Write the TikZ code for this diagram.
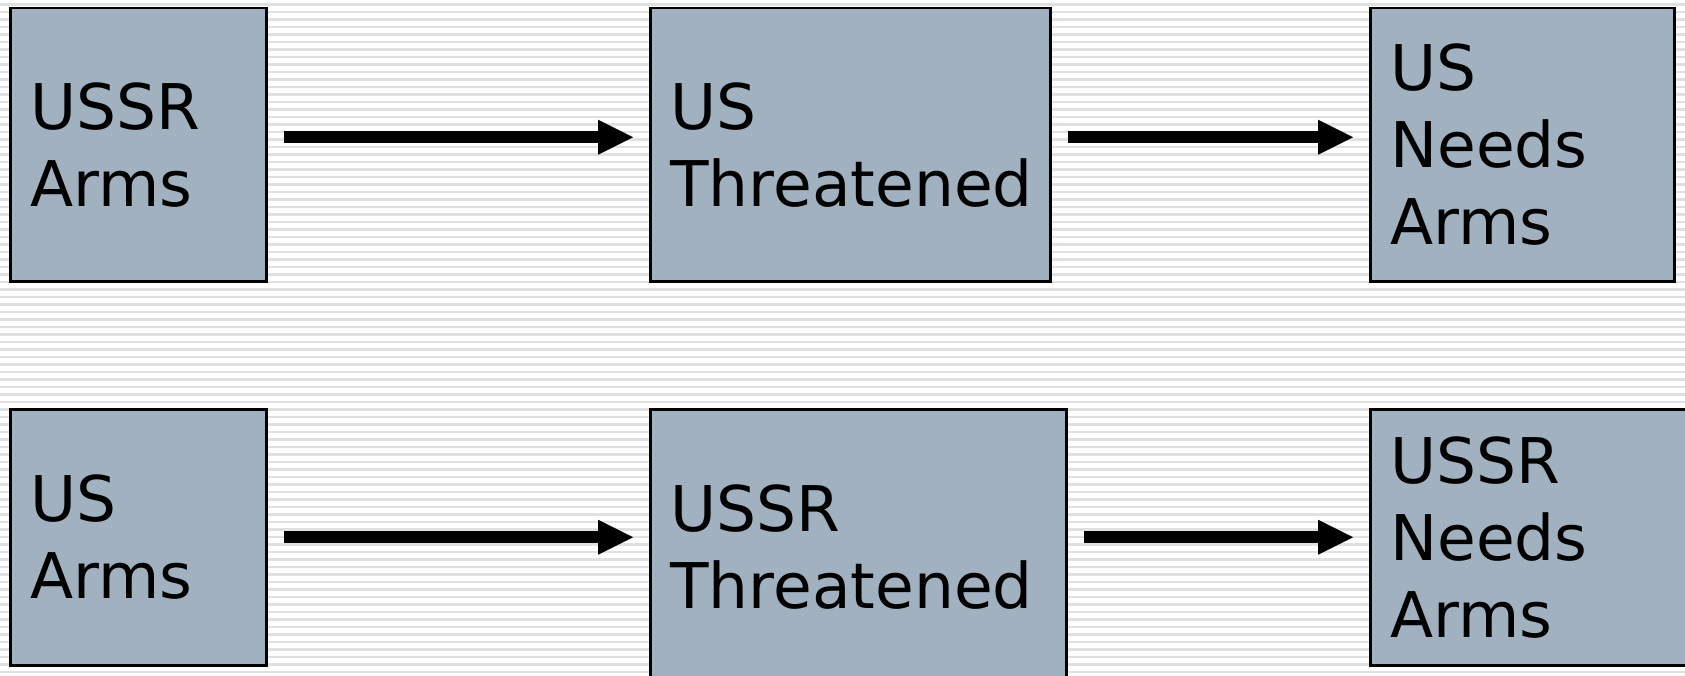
\documentclass[tikz,border=0pt]{standalone}
\usepackage{fontspec}
\setmainfont{DejaVu Sans}
\usetikzlibrary{arrows.meta,calc}
\definecolor{boxfill}{RGB}{162,177,192}
\definecolor{stripegray}{RGB}{224,224,224}
\tikzset{
  box/.style={draw=black, line width=2.5pt, fill=boxfill, anchor=north west,
    inner xsep=20pt, inner ysep=0pt, align=left,
    font=\fontsize{63}{77}\selectfont},
  arr/.style={line width=11.7pt,
    -{Triangle[length=35pt,width=35pt,line width=0pt]},
    shorten <=16pt, shorten >=16pt},
  stripe/.style={stripegray, line width=2.5pt}
}
\begin{document}
\begin{tikzpicture}[x=1pt,y=-1pt]
  \useasboundingbox (0,0) rectangle (1685,676);
  \clip (0,0) rectangle (1685,676);
  % striped backdrop
  \fill[white] (0,0) rectangle (1685,676);
  \foreach \y in {4.5,12,...,680} \draw[stripe] (0,\y) -- (1685,\y);

  % upper chain
  \node[box, minimum width=256pt, minimum height=273pt, text width=216pt] (b1) at (9,7) {USSR\\Arms};
  \node[box, minimum width=400pt, minimum height=273pt, text width=360pt] (b2) at (649,7) {US\\Threatened};
  \node[box, minimum width=304pt, minimum height=273pt, text width=264pt] (b3) at (1369,7) {US\\Needs\\Arms};

  % lower chain
  \node[box, minimum width=256pt, minimum height=256pt, text width=216pt] (b4) at (9,408) {US\\Arms};
  \node[box, minimum width=416pt, minimum height=276pt, text width=376pt] (b5) at (649,408) {USSR\\Threatened};
  \node[box, minimum width=331pt, minimum height=256pt, text width=291pt] (b6) at (1369,408) {USSR\\Needs\\Arms};

  % connectors
  \draw[arr] ([yshift=7.5pt]b1.east) -- ([yshift=7.5pt]b1.east -| b2.west);
  \draw[arr] ([yshift=7.5pt]b2.east) -- ([yshift=7.5pt]b2.east -| b3.west);
  \draw[arr] (b4.east) -- (b4.east -| b5.west);
  \draw[arr] (b5.east |- b4.east) -- (b4.east -| b6.west);
\end{tikzpicture}
\end{document}
